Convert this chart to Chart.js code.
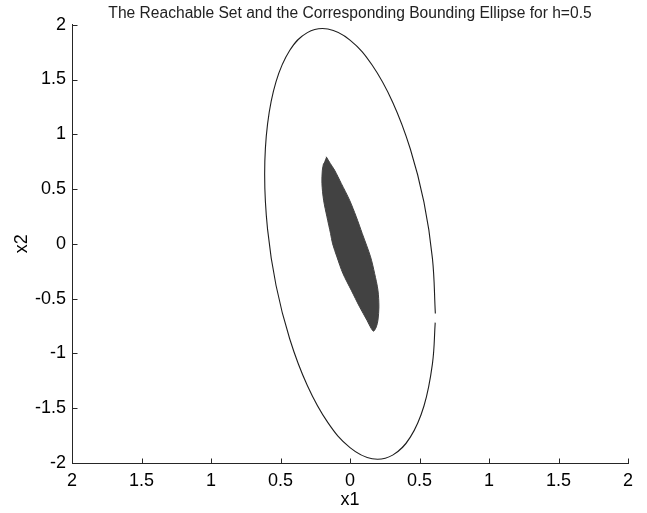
<!DOCTYPE html>
<html>
<head>
<meta charset="utf-8">
<script src="https://cdn.jsdelivr.net/npm/chart.js@4/dist/chart.umd.min.js"></script>
<style>
html,body{margin:0;padding:0;background:#fff;}
#c{display:block;}
</style>
</head>
<body>
<canvas id="c" width="647" height="513"></canvas>
<script>
// ---- data ----
const titleText = "The Reachable Set and the Corresponding Bounding Ellipse for h=0.5";
const xAxisLabel = "x1";
const yAxisLabel = "x2";

const xTickValues = [-2, -1.5, -1, -0.5, 0, 0.5, 1, 1.5, 2];
const xTickLabels = ["2", "1.5", "1", "0.5", "0", "0.5", "1", "1.5", "2"];
const yTickValues = [-2, -1.5, -1, -0.5, 0, 0.5, 1, 1.5, 2];
const yTickLabels = ["-2", "-1.5", "-1", "-0.5", "0", "0.5", "1", "1.5", "2"];

// bounding ellipse outline (open curve, small gap on the right side)
const ellipseX1 = [0.614, 0.593, 0.532, 0.434, 0.307, 0.159, 0.000, -0.159, -0.307, -0.434, -0.532, -0.593,
                   -0.614, -0.593, -0.532, -0.434, -0.307, -0.159, 0.000, 0.159, 0.307, 0.434, 0.532, 0.593, 0.613];
const ellipseX2 = [-0.635, -0.132, 0.380, 0.866, 1.293, 1.632, 1.860, 1.961, 1.928, 1.764, 1.480, 1.095,
                   0.635, 0.132, -0.380, -0.866, -1.293, -1.632, -1.860, -1.961, -1.928, -1.764, -1.480, -1.095, -0.719];

// reachable set boundary (filled)
const setX1 = [-0.171, -0.142, -0.111, -0.063, -0.003, 0.045, 0.088, 0.148, 0.177, 0.201, 0.208, 0.201, 0.189, 0.170,
               0.153, 0.122, 0.069, 0.009, -0.051, -0.094, -0.125, -0.140, -0.166, -0.190, -0.202, -0.199, -0.190];
const setX2 = [0.795, 0.734, 0.673, 0.552, 0.399, 0.247, 0.095, -0.119, -0.270, -0.423, -0.575, -0.697, -0.758, -0.797,
               -0.773, -0.697, -0.575, -0.423, -0.270, -0.119, 0.000, 0.095, 0.247, 0.399, 0.552, 0.673, 0.734];

const ellipsePts = ellipseX1.map((x, i) => ({x: x, y: ellipseX2[i]}));
const setPts = setX1.map((x, i) => ({x: x, y: setX2[i]}));

const FONT = "'Liberation Sans', Arial, Helvetica, sans-serif";
const AXIS_COLOR = "#262626";

const inwardTicks = {
  id: 'inwardTicks',
  afterDatasetsDraw(chart) {
    const {ctx, chartArea, scales} = chart;
    ctx.save();
    ctx.strokeStyle = AXIS_COLOR;
    ctx.lineWidth = 1;
    ctx.beginPath();
    xTickValues.forEach(v => {
      const px = Math.round(scales.x.getPixelForValue(v)) + 0.5;
      const by = Math.round(chartArea.bottom) + 0.5;
      ctx.moveTo(px, by);
      ctx.lineTo(px, by - 5);
    });
    yTickValues.forEach(v => {
      const py = Math.round(scales.y.getPixelForValue(v)) + 0.5;
      const lx = Math.round(chartArea.left) + 0.5;
      ctx.moveTo(lx, py);
      ctx.lineTo(lx + 5, py);
    });
    ctx.stroke();
    ctx.restore();
  }
};

new Chart(document.getElementById('c'), {
  type: 'scatter',
  data: {
    datasets: [
      {
        data: setPts,
        showLine: true,
        fill: 'shape',
        backgroundColor: '#424242',
        borderColor: '#424242',
        borderWidth: 1,
        pointRadius: 0,
        tension: 0.3
      },
      {
        data: ellipsePts,
        showLine: true,
        fill: false,
        borderColor: '#1e1e1e',
        borderWidth: 1.1,
        pointRadius: 0,
        tension: 0.4
      }
    ]
  },
  options: {
    responsive: false,
    animation: false,
    devicePixelRatio: 1,
    events: [],
    layout: { padding: { left: 0, right: 19, top: 0, bottom: 0 } },
    plugins: {
      legend: { display: false },
      tooltip: { enabled: false },
      title: {
        display: true,
        fullSize: false,
        text: titleText,
        color: '#222',
        font: { family: FONT, size: 15.6, weight: 'normal', lineHeight: 1.2 },
        padding: { top: 4, bottom: 2 }
      }
    },
    scales: {
      x: {
        type: 'linear',
        min: -2, max: 2,
        grid: { display: false, drawTicks: false },
        border: { display: true, color: AXIS_COLOR, width: 1 },
        ticks: {
          stepSize: 0.5,
          autoSkip: false,
          maxRotation: 0,
          padding: 7,
          color: '#000',
          font: { family: FONT, size: 18 },
          callback: (v, i) => xTickLabels[i]
        },
        title: {
          display: true, text: xAxisLabel, color: '#000',
          font: { family: FONT, size: 18 },
          padding: { top: 2, bottom: 2 }
        },
        afterFit: s => { s.height = 50; }
      },
      y: {
        type: 'linear',
        min: -2, max: 2,
        grid: { display: false, drawTicks: false },
        border: { display: true, color: AXIS_COLOR, width: 1 },
        ticks: {
          stepSize: 0.5,
          autoSkip: false,
          padding: 6,
          color: '#000',
          font: { family: FONT, size: 18 },
          callback: (v, i) => yTickLabels[i]
        },
        title: {
          display: true, text: yAxisLabel, color: '#000',
          font: { family: FONT, size: 18 },
          padding: { top: 11, bottom: 11 }
        },
        afterFit: s => { s.width = 72; }
      }
    }
  },
  plugins: [inwardTicks]
});
</script>
</body>
</html>
